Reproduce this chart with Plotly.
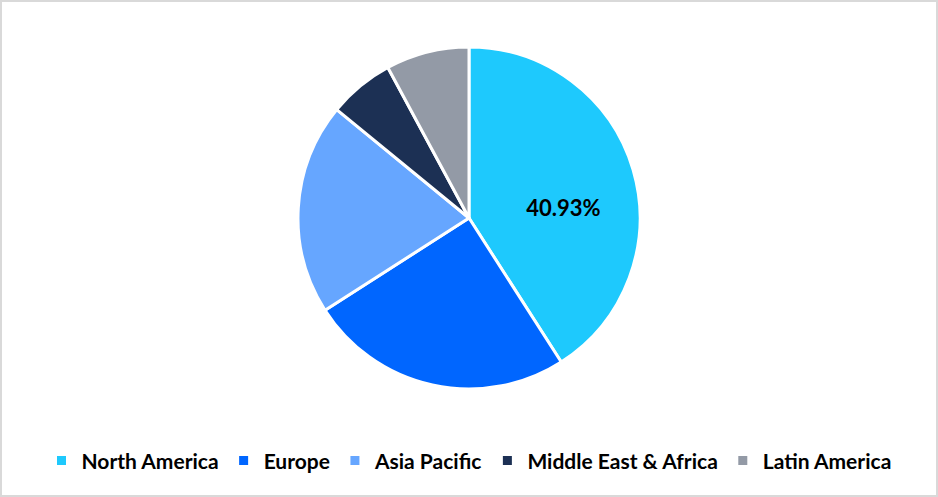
import plotly.graph_objects as go

regions = ["North America", "Europe", "Asia Pacific", "Middle East & Africa", "Latin America"]
shares = [40.93, 25.0, 20.0, 6.2, 7.87]
labels_shown = ["\u00a0<br>\u00a0\u00a0\u00a0\u00a040.93%", "", "", "", ""]
colors = ["#1EC9FD", "#0066FF", "#66A6FF", "#1C3054", "#939AA6"]

W, H = 938, 497
ml, mr, mt, mb = 0, 0, 47, 108

fig = go.Figure(go.Pie(
    labels=regions,
    values=shares,
    text=labels_shown,
    textinfo="text",
    textposition="inside",
    insidetextorientation="horizontal",
    textfont=dict(family="Lato", size=22, color="black", weight="bold"),
    marker=dict(colors=colors, line=dict(color="white", width=3)),
    sort=False,
    direction="clockwise",
    rotation=0,
    hoverinfo="label+percent",
))

ph = H - mt - mb
fig.add_shape(type="rect", xref="paper", yref="paper",
              x0=1 / W, x1=1 - 1 / W,
              y0=-(mb - 1) / ph, y1=1 + (mt - 1) / ph,
              line=dict(color="#D9D9D9", width=2))

fig.update_layout(
    width=W, height=H,
    margin=dict(l=ml, r=mr, t=mt, b=mb),
    paper_bgcolor="white",
    plot_bgcolor="white",
    showlegend=True,
    legend=dict(orientation="h", x=0.5, xanchor="center", y=-0.21, yanchor="middle",
                font=dict(family="Lato", size=21, color="black", weight="bold"),
                itemwidth=30, tracegroupgap=0),
)

fig.write_html("out.html", config={"displayModeBar": False},
               post_script="document.body.style.margin='0';")
